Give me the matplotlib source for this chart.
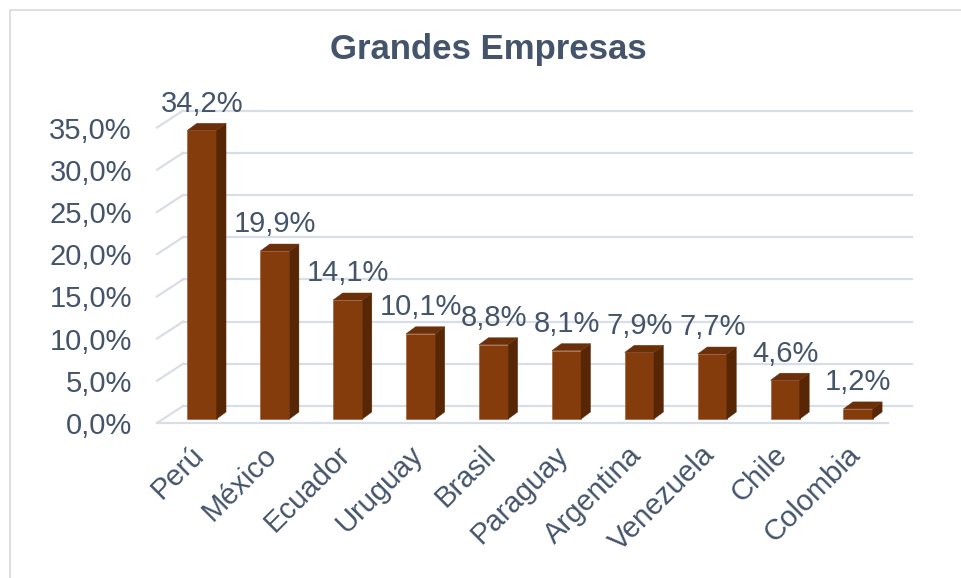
import numpy as np
import matplotlib
matplotlib.use("Agg")
import matplotlib.pyplot as plt
import matplotlib.transforms as mtransforms
from matplotlib.patches import Polygon, Rectangle

paises = ["Perú", "México", "Ecuador", "Uruguay", "Brasil", "Paraguay",
          "Argentina", "Venezuela", "Chile", "Colombia"]
valores = [34.2, 19.9, 14.1, 10.1, 8.8, 8.1, 7.9, 7.7, 4.6, 1.2]
ticks_y = [0, 5, 10, 15, 20, 25, 30, 35]

texto = "#44546A"
rejilla = "#D9DEE6"
frente = "#843C0C"
lado = "#572705"
tapa = "#6B300A"

plt.rcParams['font.family'] = ['Liberation Sans', 'DejaVu Sans']

fig = plt.figure(figsize=(9.61, 5.78), dpi=100)
ax = fig.add_axes([157/961, 1-424/578, (912-157)/961, (424-105)/578])
ax.set_xlim(-0.617, 9.74)
ax.set_ylim(-0.59, 37.2)
for s in ax.spines.values():
    s.set_visible(False)

# profundidad (en unidades de datos)
w = 0.4
ddx, ddy = 0.13, 0.83          # profundidad de la barra
fx, fy = -0.617, -0.47         # borde delantero de la pared
bx, by = -0.26, 1.54           # pared del fondo

for t in ticks_y:
    ax.plot([bx, 9.74], [t + by, t + by], color=rejilla, lw=1.6, zorder=1, clip_on=False)
    ax.plot([fx, bx], [t + fy, t + by], color=rejilla, lw=1.6, zorder=1, clip_on=False)
ax.plot([fx, 9.41], [fy, fy], color=rejilla, lw=1.6, zorder=1, clip_on=False)

x = np.arange(len(valores))
ax.bar(x, valores, width=w, color=frente, edgecolor="#A0542A", linewidth=0.4, zorder=3)
for i, v in zip(x, valores):
    ax.add_patch(Polygon([(i + w/2, 0), (i + w/2 + ddx, ddy), (i + w/2 + ddx, v + ddy), (i + w/2, v)],
                         closed=True, facecolor=lado, edgecolor=lado, lw=0.3, zorder=3))
    ax.add_patch(Polygon([(i - w/2, v), (i + w/2, v), (i + w/2 + ddx, v + ddy), (i - w/2 + ddx, v + ddy)],
                         closed=True, facecolor=tapa, edgecolor=tapa, lw=0.3, zorder=3))
    ax.text(i, v + 2.2, f"{v:.1f}%".replace('.', ','), ha='center', va='baseline',
            fontsize=21, color=texto, zorder=5)

ax.set_yticks([t + fy for t in ticks_y], [f"{t:.1f}%".replace('.', ',') for t in ticks_y])
ax.set_xticks(x, paises, rotation=45, ha='right', rotation_mode='anchor')
ax.tick_params(axis='y', length=0, pad=18, labelsize=21, labelcolor=texto)
ax.tick_params(axis='x', length=0, pad=12, labelsize=21, labelcolor=texto)
desplaza = mtransforms.ScaledTranslation(-12/100, 0, fig.dpi_scale_trans)
for lab in ax.get_xticklabels():
    lab.set_transform(lab.get_transform() + desplaza)

fig.text(488/961, 1-50/578, "Grandes Empresas", ha='center', va='center',
         fontsize=25, fontweight='bold', color=texto)

# borde del gráfico
fig.patches.append(Rectangle((10/961, -0.1), 1.2, 1.1 - 10/578, transform=fig.transFigure,
                             fill=False, edgecolor="#D9D9D9", lw=1.2))

fig.savefig("out.png", dpi=100)
